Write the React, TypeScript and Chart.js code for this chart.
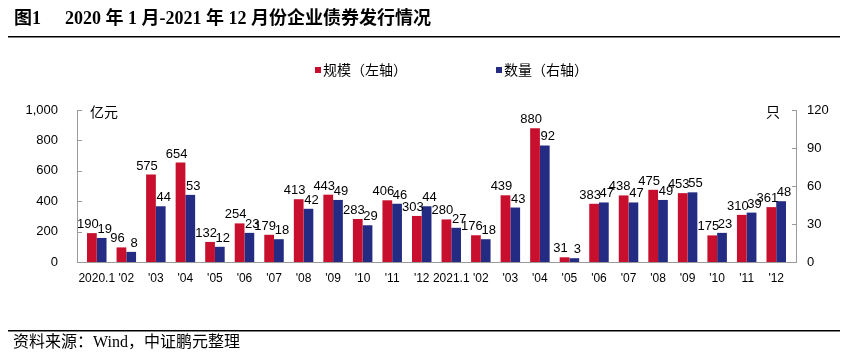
import React, { useEffect, useRef } from "react";
import { Chart, registerables } from "chart.js";

Chart.register(...registerables);

const categories = [
  "2020.1", "'02", "'03", "'04", "'05", "'06", "'07", "'08", "'09", "'10", "'11", "'12",
  "2021.1", "'02", "'03", "'04", "'05", "'06", "'07", "'08", "'09", "'10", "'11", "'12",
];
const scaleValues = [190, 96, 575, 654, 132, 254, 179, 413, 443, 283, 406, 303, 280, 176, 439, 880, 31, 383, 438, 475, 453, 175, 310, 361];
const countValues = [19, 8, 44, 53, 12, 23, 18, 42, 49, 29, 46, 44, 27, 18, 43, 92, 3, 47, 47, 49, 55, 23, 39, 48];
const leftTicks = [0, 200, 400, 600, 800, 1000];
const rightTicks = [0, 30, 60, 90, 120];
const seriesNames = ["规模（左轴）", "数量（右轴）"];
const titleLabel = "图1";
const titleText = "2020 年 1 月-2021 年 12 月份企业债券发行情况";
const sourceText = "资料来源：Wind，中证鹏元整理";
const leftUnit = "亿元";
const rightUnit = "只";

const RED = "#C8102E";
const BLUE = "#232B82";
const AXIS = "#9a9a9a";
const W = 848;
const H = 353;

const decorPlugin = {
  id: "decor",
  afterDatasetsDraw(chart: any) {
    const ctx = chart.ctx;
    ctx.save();
    ctx.fillStyle = "#000";
    ctx.font = "13px 'Liberation Sans', Arial, sans-serif";
    ctx.textAlign = "center";
    ctx.textBaseline = "alphabetic";
    const shifts = [-4, 3];
    chart.data.datasets.forEach((ds: any, i: number) => {
      const meta = chart.getDatasetMeta(i);
      meta.data.forEach((el: any, j: number) => {
        ctx.fillText(String(ds.data[j]), el.x + shifts[i], el.y - 5);
      });
    });
    ctx.restore();
  },
  afterDraw(chart: any) {
    const ctx = chart.ctx;
    const yL = chart.scales.yL;
    const yR = chart.scales.yR;
    const area = chart.chartArea;
    const lx = area.left - 5;
    const rx = area.right + 5;
    const top = yL.getPixelForValue(1000);
    const bottom = yL.getPixelForValue(0);
    ctx.save();
    // axes
    ctx.strokeStyle = AXIS;
    ctx.lineWidth = 1;
    ctx.beginPath();
    ctx.moveTo(Math.round(lx) + 0.5, top);
    ctx.lineTo(Math.round(lx) + 0.5, bottom);
    ctx.moveTo(Math.round(rx) + 0.5, top);
    ctx.lineTo(Math.round(rx) + 0.5, bottom);
    ctx.moveTo(Math.round(lx), Math.round(bottom) + 0.5);
    ctx.lineTo(Math.round(rx) + 1, Math.round(bottom) + 0.5);
    leftTicks.forEach((v) => {
      const y = Math.round(yL.getPixelForValue(v)) + 0.5;
      ctx.moveTo(Math.round(lx), y);
      ctx.lineTo(Math.round(lx) + 5, y);
    });
    rightTicks.forEach((v) => {
      const y = Math.round(yR.getPixelForValue(v)) + 0.5;
      ctx.moveTo(Math.round(rx) + 1, y);
      ctx.lineTo(Math.round(rx) - 4, y);
    });
    ctx.stroke();

    // units
    ctx.fillStyle = "#000";
    ctx.font = "14px 'Noto Sans CJK SC', sans-serif";
    ctx.textBaseline = "middle";
    ctx.textAlign = "left";
    ctx.fillText(leftUnit, lx + 13, top + 2);
    ctx.textAlign = "right";
    ctx.fillText(rightUnit, rx - 16, top + 2);

    // legend
    ctx.font = "14px 'Noto Sans CJK SC', sans-serif";
    ctx.textAlign = "left";
    const legendY = 70;
    const items = [
      { x: 315, color: RED, text: seriesNames[0] },
      { x: 496, color: BLUE, text: seriesNames[1] },
    ];
    items.forEach((it) => {
      ctx.fillStyle = it.color;
      ctx.fillRect(it.x, legendY - 3, 6, 6);
      ctx.fillStyle = "#000";
      ctx.fillText(it.text, it.x + 8, legendY);
    });

    // title
    ctx.font = "bold 18px 'Liberation Serif', 'Noto Sans CJK SC', serif";
    ctx.textBaseline = "middle";
    ctx.fillText(titleLabel, 14, 19);
    ctx.fillText(titleText, 65, 19);
    ctx.fillStyle = "#000";
    ctx.fillRect(8, 36, W - 16, 1.5);

    // footer
    ctx.fillRect(8, 330, W - 16, 1.5);
    ctx.font = "16px 'Liberation Serif', 'Noto Sans CJK SC', serif";
    ctx.fillText(sourceText, 13, 343);
    ctx.restore();
  },
};

export default function App() {
  const ref = useRef<HTMLCanvasElement | null>(null);
  useEffect(() => {
    document.body.style.margin = "0";
    const canvas = ref.current!;
    const chart = new Chart(canvas, {
      type: "bar",
      data: {
        labels: categories,
        datasets: [
          { label: seriesNames[0], data: scaleValues, backgroundColor: RED, yAxisID: "yL", categoryPercentage: 0.66, barPercentage: 1 },
          { label: seriesNames[1], data: countValues, backgroundColor: BLUE, yAxisID: "yR", categoryPercentage: 0.66, barPercentage: 1 },
        ],
      },
      options: {
        animation: false,
        responsive: false,
        devicePixelRatio: 1,
        layout: { padding: { top: 110, left: 0, right: 0, bottom: 0 } },
        plugins: { legend: { display: false }, tooltip: { enabled: false } },
        scales: {
          x: {
            type: "category",
            offset: true,
            grid: { display: false, drawTicks: false },
            border: { display: false },
            ticks: {
              autoSkip: false,
              maxRotation: 0,
              minRotation: 0,
              padding: 9,
              color: "#000",
              font: { family: "'Liberation Sans', Arial, sans-serif", size: 12 },
            },
            afterFit: (s: any) => { s.height = H - 262; },
          },
          yL: {
            type: "linear",
            position: "left",
            min: 0,
            max: 1000,
            afterBuildTicks: (s: any) => { s.ticks = leftTicks.map((v) => ({ value: v })); },
            grid: { display: false, drawTicks: false },
            border: { display: false },
            ticks: {
              padding: 24,
              color: "#000",
              font: { family: "'Liberation Sans', Arial, sans-serif", size: 13 },
              callback: (v: any) => Number(v).toLocaleString("en-US"),
            },
            afterFit: (s: any) => { s.width = 82; },
          },
          yR: {
            type: "linear",
            position: "right",
            min: 0,
            max: 120,
            afterBuildTicks: (s: any) => { s.ticks = rightTicks.map((v) => ({ value: v })); },
            grid: { display: false, drawTicks: false },
            border: { display: false },
            ticks: {
              padding: 16,
              color: "#000",
              font: { family: "'Liberation Sans', Arial, sans-serif", size: 13 },
            },
            afterFit: (s: any) => { s.width = 57; },
          },
        },
      },
      plugins: [decorPlugin],
    } as any);
    return () => chart.destroy();
  }, []);
  return <canvas ref={ref} width={W} height={H} style={{ display: "block", width: W, height: H }} />;
}
